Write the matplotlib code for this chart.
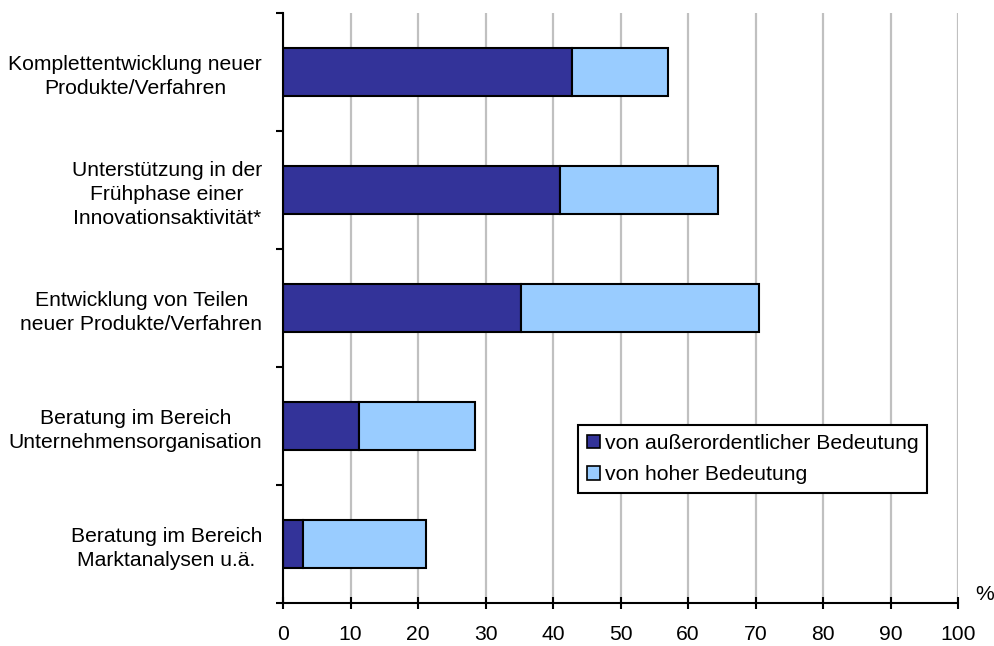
import matplotlib
matplotlib.use("Agg")
import matplotlib.pyplot as plt
from matplotlib.patches import Patch
import numpy as np

plt.rcParams['font.family'] = ['Liberation Sans', 'DejaVu Sans']

categories = [
    "Komplettentwicklung neuer\nProdukte/Verfahren",
    "Unterstützung in der\nFrühphase einer\nInnovationsaktivität*",
    "Entwicklung von Teilen\nneuer Produkte/Verfahren",
    "Beratung im Bereich\nUnternehmensorganisation",
    "Beratung im Bereich\nMarktanalysen u.ä.",
]
ausserordentlich = [42.8, 41.0, 35.2, 11.3, 2.9]
hoch = [14.3, 23.4, 35.3, 17.1, 18.3]
series_labels = ["von außerordentlicher Bedeutung", "von hoher Bedeutung"]
xticks = list(range(0, 101, 10))

dark = "#333399"
light = "#99CCFF"
fs = 15.2

fig = plt.figure(figsize=(9.95, 6.46), dpi=100)
ax = fig.add_axes([283/995, 1-603/646, (958-283)/995, 590/646])

y = np.arange(len(categories))
ax.barh(y, ausserordentlich, height=0.4, color=dark, edgecolor="black", linewidth=1.5, zorder=3)
ax.barh(y, hoch, left=ausserordentlich, height=0.4, color=light, edgecolor="black", linewidth=1.5, zorder=3)

ax.set_xlim(0, 100)
ax.set_ylim(len(categories) - 0.5, -0.5)
ax.set_xticks(xticks)
ax.set_xticklabels([str(t) for t in xticks], fontsize=fs)
ax.set_yticks(y)
ax.set_yticklabels(categories, fontsize=fs)
for lab in ax.get_yticklabels():
    lab.set_multialignment('center')
    lab.set_linespacing(1.35)
ax.set_yticks(np.arange(-0.5, len(categories), 1.0), minor=True)
ax.tick_params(axis='y', which='major', length=0, pad=15)
ax.tick_params(axis='y', which='minor', length=5, width=1.5, direction='out')
ax.tick_params(axis='x', which='major', length=8, width=1.5, direction='inout', pad=12)

ax.grid(axis='x', color="#c0c0c0", linewidth=1.6, zorder=0)
ax.set_axisbelow(True)
for s in ['top', 'right']:
    ax.spines[s].set_visible(False)
for s in ['left', 'bottom']:
    ax.spines[s].set_linewidth(1.5)
    ax.spines[s].set_zorder(4)

ax.text(1.04, 0.015, "%", transform=ax.transAxes, fontsize=fs, ha='center', va='center', clip_on=False)

handles = [Patch(facecolor=dark, edgecolor="black", linewidth=1.2),
           Patch(facecolor=light, edgecolor="black", linewidth=1.2)]
leg = ax.legend(handles, series_labels, loc='upper left', bbox_to_anchor=(0.437, 0.302),
                borderaxespad=0, fontsize=fs, fancybox=False, framealpha=1,
                edgecolor='black', handlelength=0.6, handleheight=0.6,
                handletextpad=0.25, labelspacing=0.6, borderpad=0.42)
leg.get_frame().set_linewidth(1.5)
leg.set_zorder(5)

fig.savefig("out.png", dpi=100)
